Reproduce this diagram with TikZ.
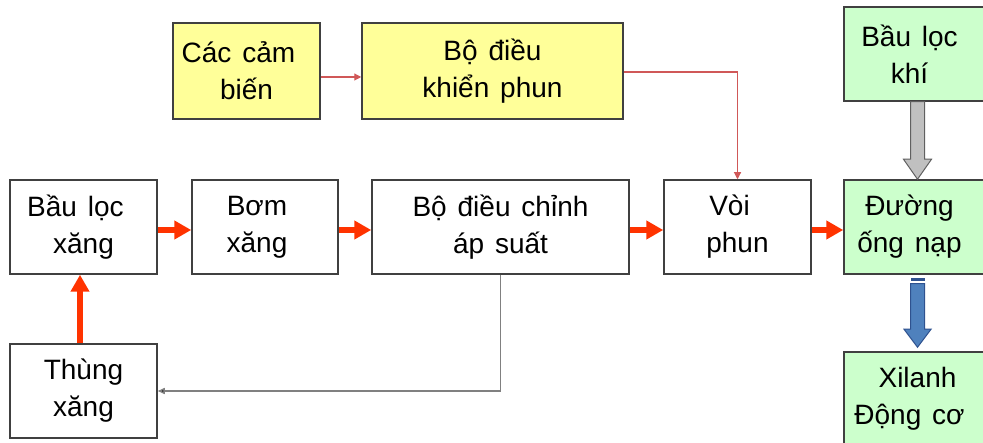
\documentclass[tikz,border=0pt]{standalone}
\usepackage{fontspec}
\setmainfont[WordSpace=1.4]{Liberation Sans}
\usetikzlibrary{arrows.meta}
\definecolor{boxline}{HTML}{404040}
\definecolor{yellowfill}{HTML}{FFFF99}
\definecolor{greenfill}{HTML}{CCFFCC}
\definecolor{redarrow}{HTML}{FF3300}
\definecolor{thinred}{HTML}{D05858}
\definecolor{greyfill}{HTML}{C0C0C0}
\definecolor{greyline}{HTML}{606060}
\definecolor{bluefill}{HTML}{4F81BD}
\definecolor{blueline}{HTML}{2F528F}
\newcommand{\txtleft}{\hspace*{-16pt}}
\tikzset{
  box/.style={draw=boxline, line width=1.5pt, minimum width=147pt, minimum height=94pt,
    align=center, inner sep=0pt, font=\fontsize{28}{37}\selectfont},
  ybox/.style={box, fill=yellowfill, minimum height=96pt},
  gbox/.style={box, fill=greenfill},
  flow/.style={redarrow, line width=6pt, -{Triangle[length=17pt,width=18pt]}},
  ctrl/.style={thinred, line width=1.1pt, -{Triangle[length=7pt,width=7pt]}},
  ret/.style={gray, line width=1.5pt, -{Triangle[length=7pt,width=6pt,fill=black]}},
}
\begin{document}
\begin{tikzpicture}[x=1pt,y=-1pt]
\clip (0,0) rectangle (983,443);
\fill[white] (0,0) rectangle (983,443);
% top controllers
\node[ybox] (cam) at (246.5,71) {\txtleft Các cảm\\biến};
\node[ybox, minimum width=261pt] (dk) at (492.5,71) {Bộ điều\\khiển phun};
% fuel line
\node[box] (blx) at (83.5,227) {\txtleft Bầu lọc\\xăng};
\node[box, minimum width=146pt] (bom) at (265,227) {\txtleft Bơm\\\txtleft xăng};
\node[box, minimum width=257pt] (dc) at (500.5,227) {Bộ điều chỉnh\\áp suất};
\node[box] (voi) at (737.5,227) {\txtleft Vòi\\phun};
\node[box] (tx) at (83.5,391) {Thùng\\xăng};
% air / engine column
\node[gbox] (blk) at (917.5,54) {\txtleft Bầu lọc\\\txtleft khí};
\node[gbox] (onp) at (917.5,227) {\txtleft Đường\\\txtleft ống nạp};
\node[gbox] (xl) at (917.5,399) {Xilanh\\\txtleft Động cơ};
% red flow arrows
\draw[flow] ([yshift=-3pt]blx.east) -- ([yshift=-3pt]bom.west);
\draw[flow] ([yshift=-3pt]bom.east) -- ([yshift=-3pt]dc.west);
\draw[flow] ([yshift=-3pt]dc.east) -- ([yshift=-3pt]voi.west);
\draw[flow] ([yshift=-3pt]voi.east) -- ([yshift=-3pt]onp.west);
\draw[flow] ([xshift=-3.5pt]tx.north) -- ([xshift=-3.5pt]blx.south);
% control signals
\draw[ctrl] ([yshift=-6pt]cam.east) -- ([yshift=-6pt]dk.west);
\draw[ctrl] ([yshift=-1pt]dk.east) -| (voi.north);
% return line
\draw[ret] (dc.south) |- (tx.east);
% grey block arrow
\draw[fill=greyfill, draw=greyline, line width=1pt]
  ([xshift=-7pt]blk.south) -- ([xshift=-7pt,yshift=20pt]onp.north)
  -- ([xshift=-14pt,yshift=20pt]onp.north) -- (onp.north)
  -- ([xshift=14pt,yshift=20pt]onp.north) -- ([xshift=7pt,yshift=20pt]onp.north)
  -- ([xshift=7pt]blk.south) -- cycle;
% blue block arrow
\fill[blueline] ([xshift=-7pt,yshift=-3pt]onp.south) rectangle ([xshift=7pt,yshift=-6pt]onp.south);
\draw[fill=bluefill, draw=blueline, line width=1pt]
  ([xshift=-7pt,yshift=-9pt]onp.south) -- ([xshift=-7pt,yshift=22pt]xl.north)
  -- ([xshift=-13.5pt,yshift=22pt]xl.north) -- ([yshift=4pt]xl.north)
  -- ([xshift=13.5pt,yshift=22pt]xl.north) -- ([xshift=7pt,yshift=22pt]xl.north)
  -- ([xshift=7pt,yshift=-9pt]onp.south) -- cycle;
\end{tikzpicture}
\end{document}
